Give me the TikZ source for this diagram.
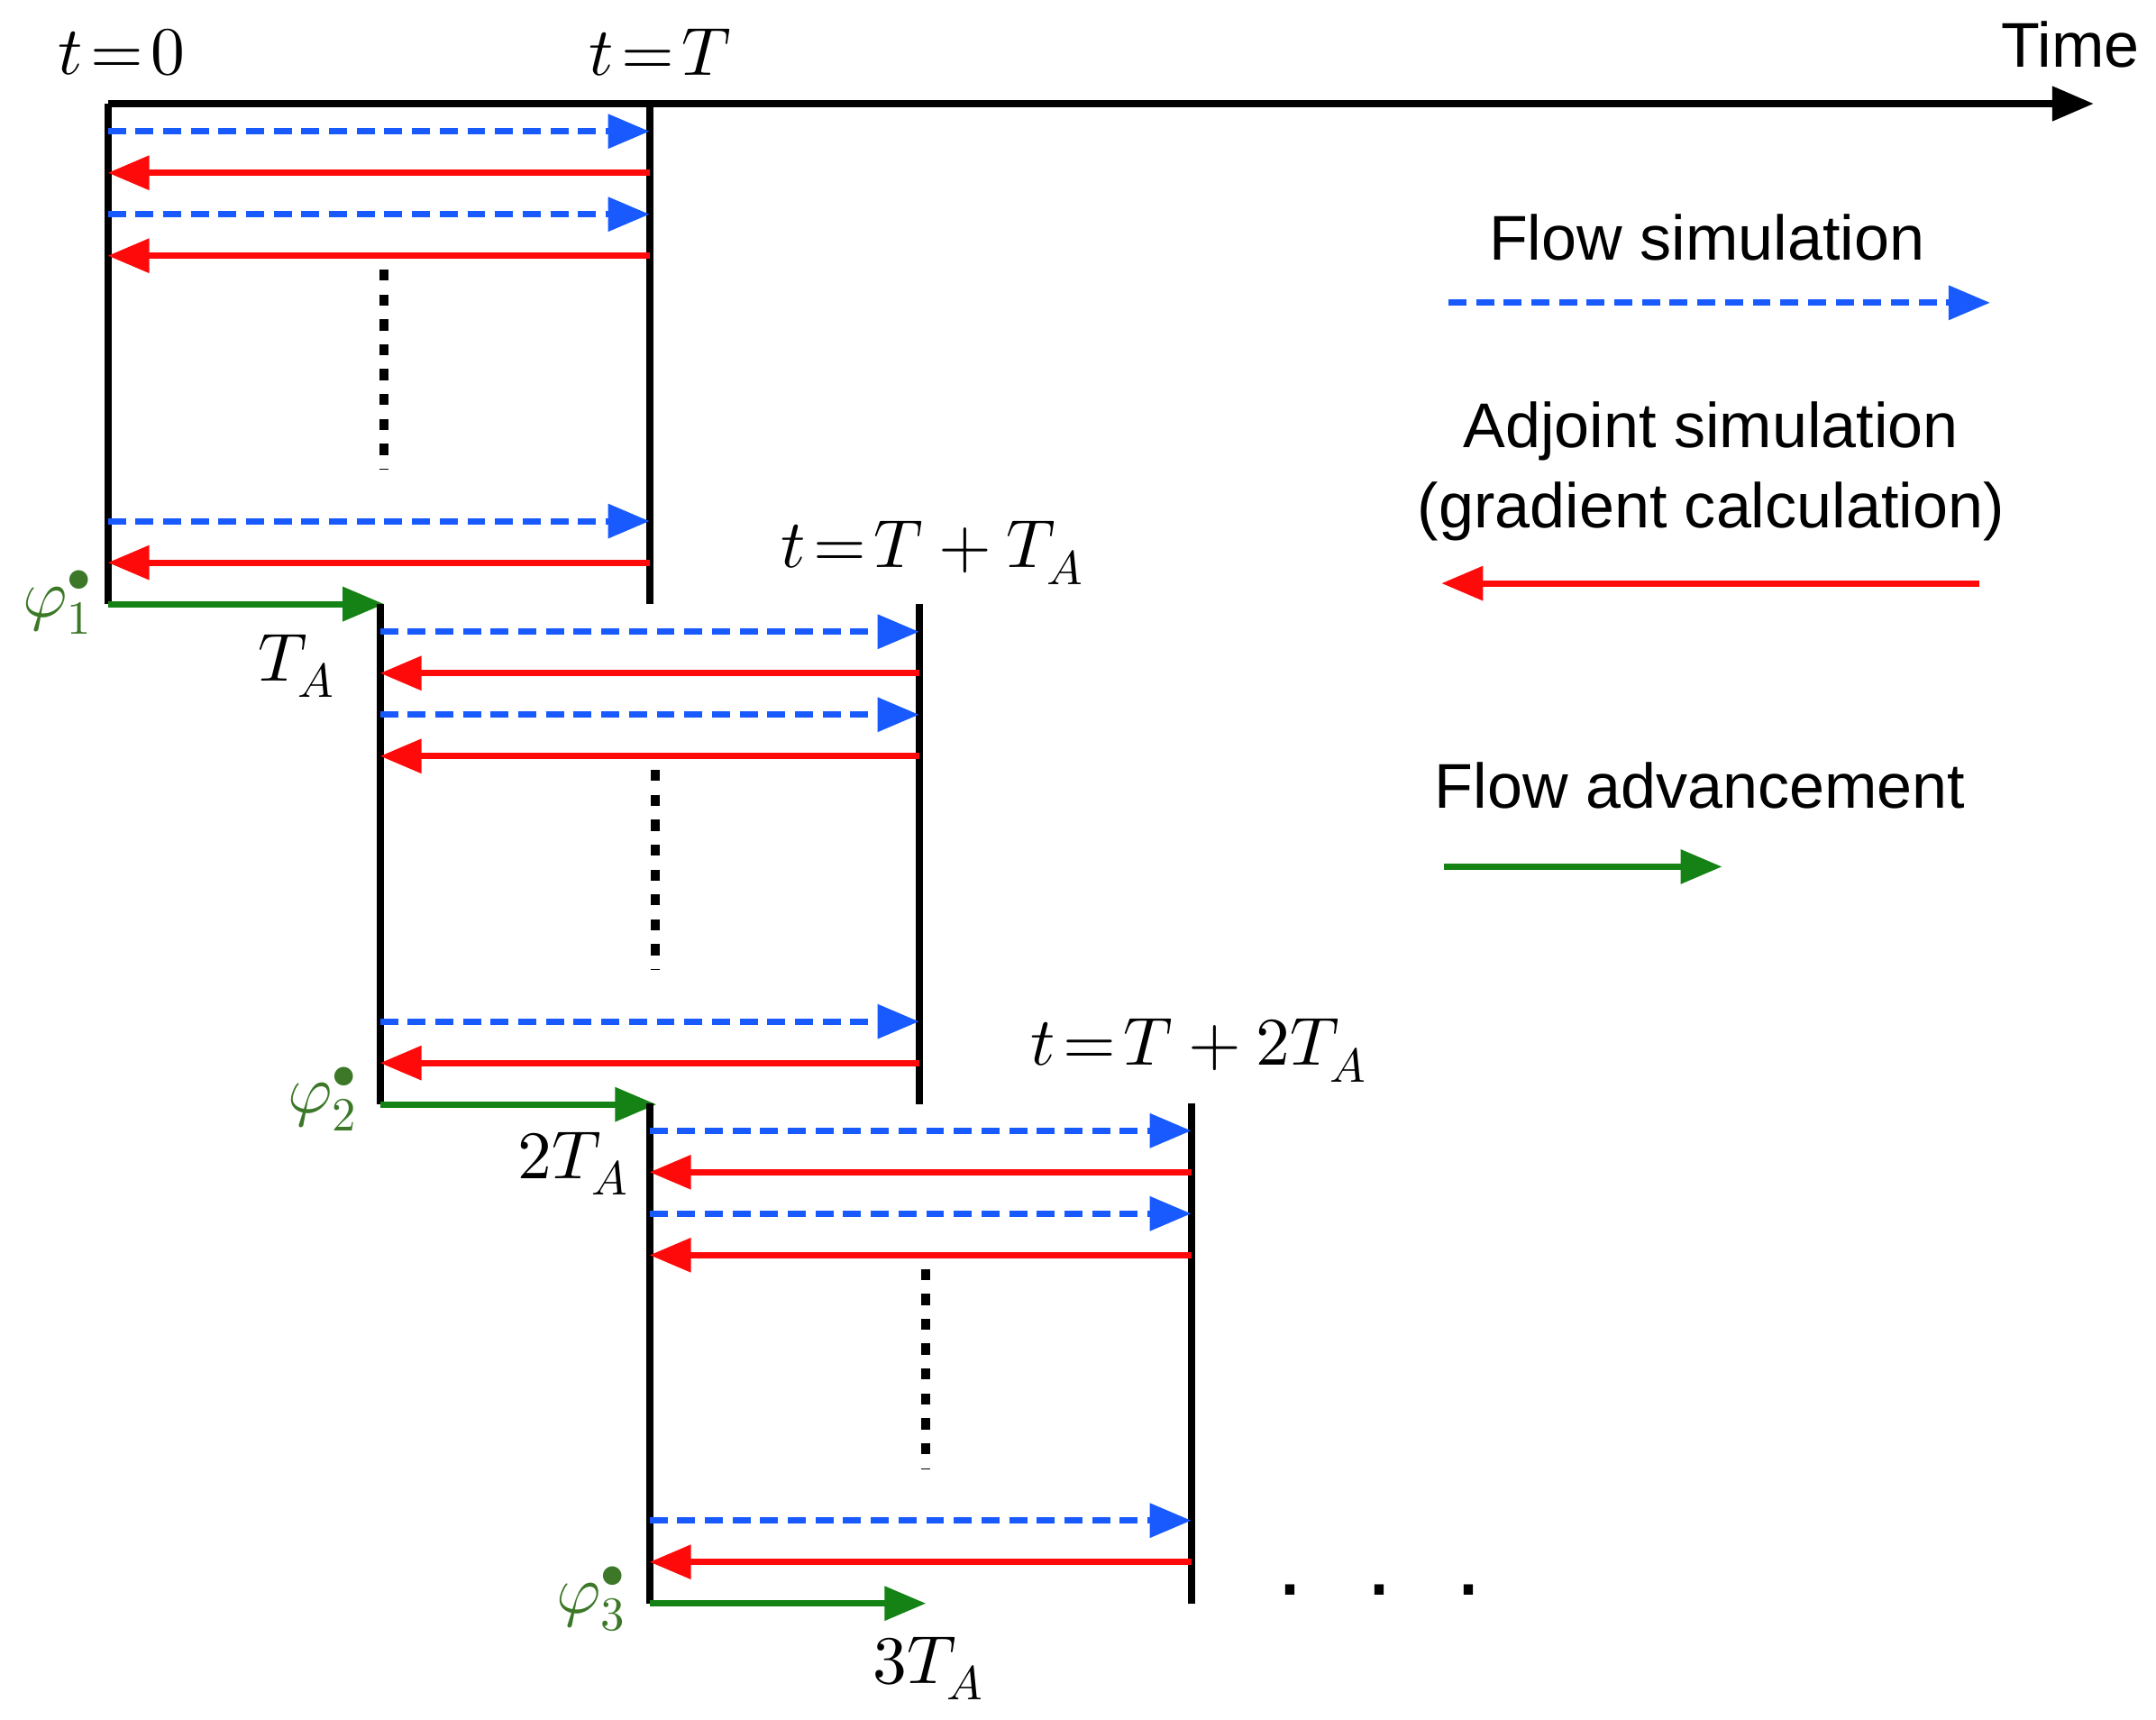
\documentclass[tikz,border=0pt]{standalone}
\usepackage{fontspec}
\setmainfont{Liberation Sans}
\usepackage{unicode-math}
\setmathfont{Latin Modern Math}
\usetikzlibrary{arrows.meta}
\definecolor{fb}{RGB}{25,90,255}
\definecolor{ar}{RGB}{255,10,10}
\definecolor{gr}{RGB}{20,130,20}
\definecolor{pg}{RGB}{60,120,40}
\begin{document}
\begin{tikzpicture}[x=0.01cm,y=-0.01cm,
 tip/.style={-{Triangle[length=0.3cm,width=0.24cm]}},
 fwd/.style={tip,fb,line width=1.3pt,dash pattern=on 0.13cm off 0.07cm},
 adj/.style={tip,ar,line width=1.3pt},
 adv/.style={tip,gr,line width=1.3pt},
 wall/.style={black,line width=1.5pt},
 dots/.style={black,line width=1.8pt,dash pattern=on 0.08cm off 0.1cm},
 lab/.style={font=\fontsize{14}{17}\selectfont},
 leg/.style={font=\fontsize{13}{16.5}\selectfont},
 phi/.style={pg,font=\fontsize{14}{17}\selectfont}]
\useasboundingbox (0,0) rectangle (1560,1244);
% axis
\coordinate (a0) at (78,75); \coordinate (a1) at (1515,75);
\draw[wall,-{Triangle[length=0.3cm,width=0.24cm]}] (a0) -- (a1);
\node[leg] (time) at (1498,32) {Time};
\node[lab] (t0) at (88,38) {$t\!=\!0$};
\node[lab] (tT) at (478,38) {$t\!=\!T$};
% boxes: x-left, x-right, top-y
\foreach \L/\R/\Y/\i in {78/470/75/1,275/665/437/2,470/862/798/3}{
  \coordinate (L\i t) at (\L,\Y); \coordinate (L\i b) at (\L,\Y+362);
  \coordinate (R\i t) at (\R,\Y); \coordinate (R\i b) at (\R,\Y+362);
  \draw[wall] (L\i t) -- (L\i b);
  \draw[wall] (R\i t) -- (R\i b);
  \foreach \d in {20,80,302}{
    \coordinate (bl\i\d) at (\L,\Y+\d); \coordinate (br\i\d) at (\R,\Y+\d);
    \draw[fwd] (bl\i\d) -- (br\i\d);}
  \foreach \d in {50,110,332}{
    \coordinate (rl\i\d) at (\L,\Y+\d); \coordinate (rr\i\d) at (\R,\Y+\d);
    \draw[adj] (rr\i\d) -- (rl\i\d);}
  \coordinate (d\i a) at ({(\L+\R)/2+4},\Y+120); \coordinate (d\i b) at ({(\L+\R)/2+4},\Y+265);
  \draw[dots] (d\i a) -- (d\i b);
  \coordinate (g\i a) at (\L,\Y+362); \coordinate (g\i b) at ({\L+200},\Y+362);
  \draw[adv] (g\i a) -- (g\i b);
}
\node[lab] (ta1) at (215,482) {$T_A$};
\node[lab] (ta2) at (415,842) {$2T_A$};
\node[lab] (ta3) at (672,1207) {$3T_A$};
\node[phi] (p1) at (42,436) {$\varphi_1^{\bullet}$};
\node[phi] (p2) at (234,795) {$\varphi_2^{\bullet}$};
\node[phi] (p3) at (428,1157) {$\varphi_3^{\bullet}$};
\node[lab] (tt1) at (675,400) {$t\!=\!T+T_A$};
\node[lab] (tt2) at (868,760) {$t\!=\!T+2T_A$};
\node[font=\fontsize{20}{20}\selectfont] (etc) at (998,1150) {.\hspace{0.45cm}.\hspace{0.45cm}.};
% legend
\node[leg] (l1) at (1235,172) {Flow simulation};
\coordinate (l1a) at (1048,219); \coordinate (l1b) at (1440,219);
\draw[fwd] (l1a) -- (l1b);
\node[leg,align=center] (l2) at (1238,341) {Adjoint simulation\\(gradient calculation)};
\coordinate (l2a) at (1432,422); \coordinate (l2b) at (1043,422);
\draw[adj] (l2a) -- (l2b);
\node[leg] (l3) at (1230,568) {Flow advancement};
\coordinate (l3a) at (1045,627); \coordinate (l3b) at (1246,627);
\draw[adv] (l3a) -- (l3b);
\end{tikzpicture}
\end{document}
